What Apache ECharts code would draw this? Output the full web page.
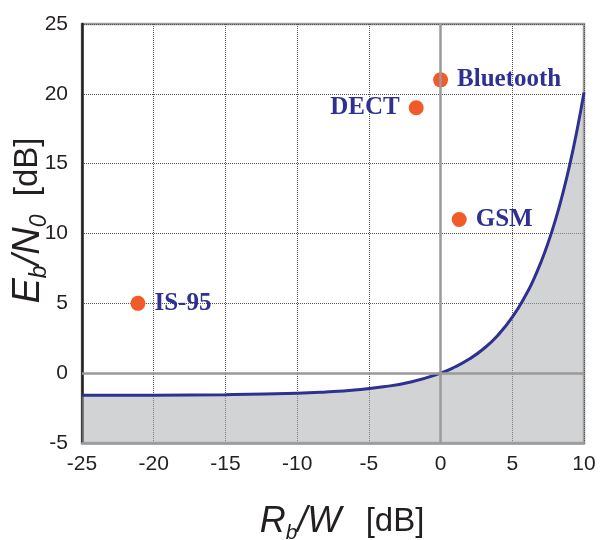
<!DOCTYPE html>
<html>
<head>
<meta charset="utf-8">
<title>Eb/N0 vs Rb/W</title>
<script src="https://cdn.jsdelivr.net/npm/echarts@6/dist/echarts.min.js"></script>
<style>
  html, body { margin: 0; padding: 0; background: #fff; }
  #chart { width: 610px; height: 540px; }
</style>
</head>
<body>
<div id="chart"></div>
<script>
// capacity bound: Rb/W [dB] -> Eb/N0 [dB]
var rbw = [-25, -20, -15, -10, -8, -6, -4, -2, 0, 1, 2, 3, 4, 5, 6, 6.5, 7, 7.5, 8, 8.5, 9, 9.5, 10];
var ebno = [-1.59, -1.58, -1.54, -1.44, -1.35, -1.21, -0.98, -0.61, 0, 0.44, 1.01, 1.75, 2.72, 4.01, 5.70, 6.74, 7.95, 9.34, 10.94, 12.78, 14.89, 17.32, 20.1];

// systems
var sysNames = ['Bluetooth', 'DECT', 'GSM', 'IS-95'];
var sysX = [0, -1.7, 1.3, -21.1];
var sysY = [21, 19, 11, 5];

var xTicks = [-25, 10, 5];   // min, max, step
var yTicks = [-5, 25, 5];

var curve = rbw.map(function (x, i) { return [x, ebno[i]]; });
var pts = sysNames.map(function (n, i) {
    return {
        name: n,
        value: [sysX[i], sysY[i]],
        label: { position: n === 'DECT' ? 'left' : 'right' }
    };
});

var sans = "'Liberation Sans', Arial, Helvetica, sans-serif";
var txt = '#231f20';

var chart = echarts.init(document.getElementById('chart'));
chart.setOption({
    animation: false,
    grid: {
        left: 82, right: 26, top: 24, bottom: 97,
        containLabel: false,
        outerBoundsMode: 'none',
        show: true, borderColor: '#9a9a9a', borderWidth: 2.5
    },
    xAxis: {
        type: 'value',
        min: xTicks[0], max: xTicks[1], interval: xTicks[2],
        axisLine: { onZero: false, lineStyle: { color: '#9a9a9a', width: 2.5 } },
        axisTick: { show: false },
        axisLabel: { color: txt, fontFamily: sans, fontSize: 21, margin: 11 },
        splitLine: { lineStyle: { color: '#555', type: 'dotted', width: 1 } },
        name: '{i|R}{s|b}{i|/W}{n|  [dB]}',
        nameLocation: 'middle',
        nameMoveOverlap: false,
        nameGap: 57,
        nameTextStyle: {
            padding: [0, 0, 0, 18],
            rich: {
                i: { fontFamily: sans, fontStyle: 'italic', fontSize: 36, color: txt, lineHeight: 44 },
                s: { fontFamily: sans, fontStyle: 'italic', fontSize: 21, color: txt, lineHeight: 22, verticalAlign: 'bottom' },
                n: { fontFamily: sans, fontSize: 33, color: txt, lineHeight: 44, padding: [0, 0, 0, 6] }
            }
        }
    },
    yAxis: {
        type: 'value',
        min: yTicks[0], max: yTicks[1], interval: yTicks[2],
        axisLine: { show: true, onZero: false, lineStyle: { color: '#231f20', width: 2.5 } },
        axisTick: { show: false },
        axisLabel: { color: txt, fontFamily: sans, fontSize: 21, margin: 14 },
        splitLine: { lineStyle: { color: '#555', type: 'dotted', width: 1 } },
        name: '{i|E}{s|b}{i|/N}{s|0}{n|  [dB]}',
        nameLocation: 'middle',
        nameRotate: 90,
        nameMoveOverlap: false,
        nameGap: 31,
        nameTextStyle: {
            padding: [0, 0, 0, 26],
            rich: {
                i: { fontFamily: sans, fontStyle: 'italic', fontSize: 38, color: txt, lineHeight: 46 },
                s: { fontFamily: sans, fontStyle: 'italic', fontSize: 23, color: txt, lineHeight: 22, verticalAlign: 'bottom' },
                n: { fontFamily: sans, fontSize: 33, color: txt, lineHeight: 46 }
            }
        }
    },
    series: [
        {
            type: 'line',
            data: curve,
            smooth: true,
            showSymbol: false,
            lineStyle: { color: '#2e3192', width: 3 },
            areaStyle: { origin: 'start', color: '#a6a8ab', opacity: 0.5 },
            z: 2
        },
        {
            type: 'line',
            data: [],
            z: 3,
            markLine: {
                silent: true,
                symbol: 'none',
                label: { show: false },
                lineStyle: { color: '#9a9a9a', type: 'solid', width: 2.5 },
                data: [{ xAxis: 0 }, { yAxis: 0 }]
            }
        },
        {
            type: 'scatter',
            data: pts,
            symbolSize: 15,
            itemStyle: { color: '#f15a29', opacity: 1 },
            z: 4,
            label: {
                show: true,
                formatter: '{b}',
                distance: 9,
                color: '#2e3192',
                opacity: 1,
                fontFamily: "'Liberation Serif', 'Times New Roman', serif",
                fontWeight: 'bold',
                fontSize: 25
            }
        }
    ]
});
</script>
</body>
</html>
